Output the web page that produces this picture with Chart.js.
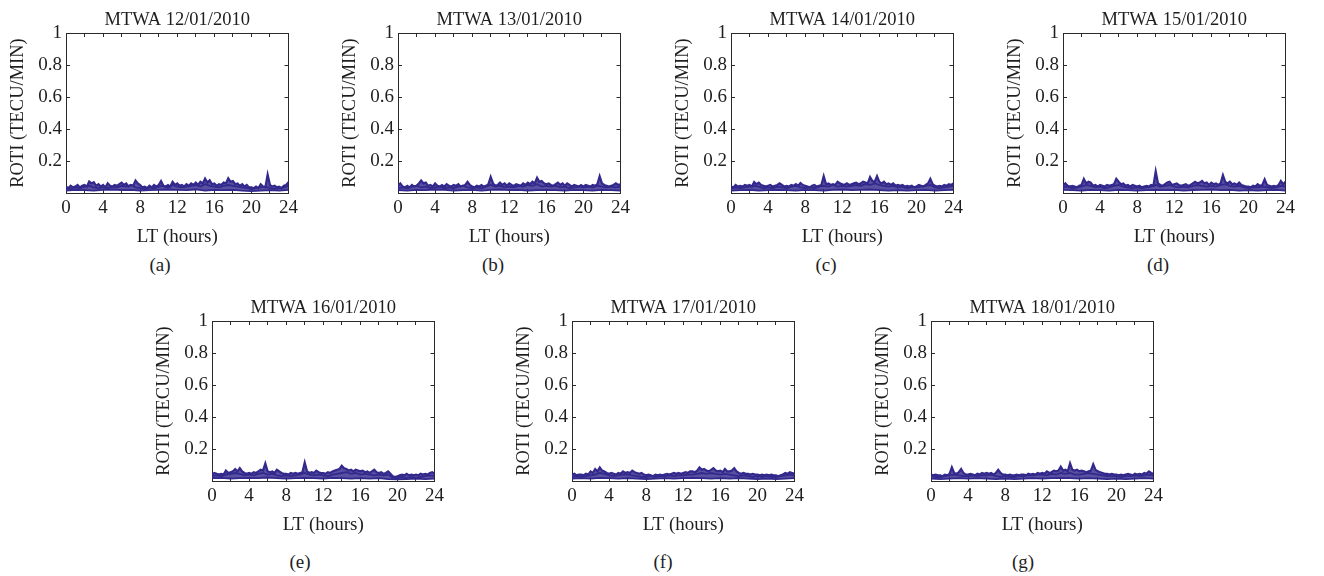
<!DOCTYPE html>
<html>
<head>
<meta charset="utf-8">
<title>ROTI MTWA 12-18/01/2010</title>
<script src="https://cdn.jsdelivr.net/npm/chart.js@4.4.1/dist/chart.umd.min.js"></script>
<style>
  html, body { margin: 0; padding: 0; background: #fff; }
  #fig { position: relative; width: 1324px; height: 576px; overflow: hidden; }
  #fig canvas { position: absolute; }
  .cap {
    position: absolute;
    font: 19px "Liberation Serif", "Times New Roman", serif;
    color: #1e1e1e;
    transform: translate(-50%, -50%);
    white-space: nowrap;
  }
</style>
</head>
<body>
<div id="fig"></div>
<script>
// panel titles and captions
var titles = ["MTWA 12/01/2010", "MTWA 13/01/2010", "MTWA 14/01/2010", "MTWA 15/01/2010",
              "MTWA 16/01/2010", "MTWA 17/01/2010", "MTWA 18/01/2010"];
var captions = ["(a)", "(b)", "(c)", "(d)", "(e)", "(f)", "(g)"];

var xTicks = [0, 4, 8, 12, 16, 20, 24];
var yTicks = [0.2, 0.4, 0.6, 0.8, 1];

// ROTI (TECU/min)
// upper trace: every 15 min, 0..24 h
var upper12 = [
  0.04, 0.03, 0.045, 0.035,  0.04, 0.05, 0.035, 0.045,  0.05, 0.04, 0.072, 0.06,
  0.068, 0.045, 0.055, 0.04,  0.05, 0.035, 0.06, 0.045,  0.04, 0.05, 0.045, 0.055,
  0.065, 0.05, 0.06, 0.04,  0.05, 0.045, 0.078, 0.06,  0.05, 0.035, 0.04, 0.03,
  0.045, 0.035, 0.05, 0.04,  0.05, 0.075, 0.045, 0.04,  0.05, 0.04, 0.07, 0.05,
  0.06, 0.045, 0.05, 0.04,  0.055, 0.045, 0.06, 0.05,  0.065, 0.05, 0.07, 0.06,
  0.09, 0.065, 0.08, 0.055,  0.06, 0.045, 0.055, 0.05,  0.065, 0.06, 0.092, 0.07,
  0.075, 0.055, 0.06, 0.045,  0.055, 0.04, 0.05, 0.035,  0.035, 0.03, 0.04, 0.03,
  0.055, 0.04, 0.035, 0.115,  0.05, 0.04, 0.045, 0.035,  0.04, 0.03, 0.045, 0.05,
  0.068
];
var upper13 = [
  0.045, 0.06, 0.04, 0.035,  0.045, 0.035, 0.05, 0.04,  0.045, 0.06, 0.078, 0.06,
  0.065, 0.045, 0.05, 0.04,  0.06, 0.045, 0.04, 0.05,  0.04, 0.055, 0.045, 0.04,
  0.05, 0.045, 0.055, 0.04,  0.045, 0.05, 0.07, 0.05,  0.04, 0.035, 0.045, 0.04,
  0.05, 0.04, 0.045, 0.055,  0.1, 0.06, 0.045, 0.05,  0.065, 0.05, 0.06, 0.045,
  0.06, 0.05, 0.045, 0.055,  0.05, 0.045, 0.06, 0.05,  0.065, 0.055, 0.07, 0.06,
  0.095, 0.07, 0.075, 0.06,  0.055, 0.06, 0.05, 0.045,  0.055, 0.065, 0.05, 0.06,
  0.045, 0.06, 0.05, 0.04,  0.05, 0.045, 0.04, 0.05,  0.04, 0.05, 0.045, 0.04,
  0.05, 0.045, 0.055, 0.105,  0.06, 0.05, 0.045, 0.04,  0.045, 0.05, 0.06, 0.05,
  0.055
];
var upper14 = [
  0.04, 0.035, 0.05, 0.04,  0.045, 0.04, 0.05, 0.045,  0.05, 0.04, 0.068, 0.055,
  0.065, 0.05, 0.045, 0.04,  0.045, 0.05, 0.04, 0.045,  0.05, 0.06, 0.05, 0.04,
  0.045, 0.04, 0.05, 0.045,  0.055, 0.045, 0.062, 0.05,  0.045, 0.04, 0.035, 0.045,
  0.05, 0.04, 0.045, 0.05,  0.105, 0.055, 0.06, 0.05,  0.055, 0.05, 0.07, 0.06,
  0.055, 0.05, 0.06, 0.05,  0.055, 0.06, 0.065, 0.055,  0.06, 0.07, 0.065, 0.06,
  0.1, 0.075, 0.07, 0.105,  0.07, 0.06, 0.07, 0.055,  0.06, 0.05, 0.06, 0.045,
  0.05, 0.045, 0.05, 0.04,  0.045, 0.04, 0.045, 0.035,  0.04, 0.05, 0.045, 0.04,
  0.05, 0.06, 0.088, 0.055,  0.045, 0.04, 0.045, 0.04,  0.05, 0.045, 0.055, 0.05,
  0.06
];
var upper15 = [
  0.045, 0.06, 0.045, 0.04,  0.045, 0.04, 0.035, 0.045,  0.05, 0.088, 0.06, 0.07,
  0.065, 0.045, 0.05, 0.04,  0.05, 0.045, 0.04, 0.05,  0.045, 0.05, 0.055, 0.088,
  0.07, 0.055, 0.06, 0.045,  0.05, 0.04, 0.05, 0.045,  0.04, 0.045, 0.035, 0.04,
  0.045, 0.04, 0.05, 0.045,  0.135, 0.06, 0.05, 0.045,  0.055, 0.065, 0.07, 0.05,
  0.055, 0.06, 0.05, 0.045,  0.05, 0.055, 0.045, 0.05,  0.06, 0.07, 0.06, 0.065,
  0.075, 0.06, 0.065, 0.05,  0.065, 0.055, 0.06, 0.05,  0.06, 0.112, 0.07, 0.06,
  0.07, 0.055, 0.06, 0.05,  0.065, 0.05, 0.045, 0.04,  0.04, 0.035, 0.045, 0.04,
  0.055, 0.045, 0.05, 0.085,  0.05, 0.045, 0.04, 0.045,  0.04, 0.05, 0.075, 0.055,
  0.07
];
var upper16 = [
  0.04, 0.05, 0.045, 0.04,  0.045, 0.04, 0.065, 0.05,  0.055, 0.06, 0.075, 0.06,
  0.08, 0.06, 0.05, 0.045,  0.05, 0.045, 0.055, 0.05,  0.06, 0.07, 0.065, 0.11,
  0.06, 0.055, 0.06, 0.05,  0.07, 0.06, 0.05, 0.045,  0.045, 0.04, 0.05, 0.045,
  0.05, 0.045, 0.05, 0.055,  0.115, 0.06, 0.05, 0.055,  0.05, 0.065, 0.055, 0.05,
  0.05, 0.045, 0.055, 0.05,  0.06, 0.065, 0.07, 0.075,  0.095, 0.08, 0.075, 0.065,
  0.07, 0.06, 0.07, 0.065,  0.06, 0.065, 0.055, 0.06,  0.05, 0.06, 0.07, 0.055,
  0.05, 0.055, 0.045, 0.05,  0.06, 0.045, 0.03, 0.025,  0.03, 0.035, 0.04, 0.035,
  0.045, 0.035, 0.04, 0.035,  0.04, 0.035, 0.045, 0.04,  0.045, 0.04, 0.05, 0.055,
  0.045
];
var upper17 = [
  0.04, 0.045, 0.035, 0.04,  0.04, 0.035, 0.045, 0.04,  0.06, 0.05, 0.075, 0.06,
  0.085, 0.065, 0.06, 0.05,  0.045, 0.05, 0.045, 0.04,  0.05, 0.045, 0.06, 0.05,
  0.055, 0.05, 0.065, 0.055,  0.05, 0.045, 0.05, 0.04,  0.035, 0.04, 0.035, 0.03,
  0.04, 0.035, 0.04, 0.035,  0.04, 0.045, 0.04, 0.045,  0.05, 0.045, 0.05, 0.045,
  0.05, 0.055, 0.05, 0.06,  0.06, 0.055, 0.065, 0.085,  0.07, 0.075, 0.065, 0.06,
  0.07, 0.08, 0.065, 0.06,  0.065, 0.055, 0.075, 0.06,  0.06, 0.065, 0.08, 0.06,
  0.05, 0.045, 0.05, 0.045,  0.045, 0.04, 0.045, 0.04,  0.04, 0.035, 0.04, 0.035,
  0.04, 0.035, 0.04, 0.035,  0.035, 0.03, 0.035, 0.04,  0.05, 0.045, 0.055, 0.05,
  0.045
];
var upper18 = [
  0.04, 0.035, 0.04, 0.035,  0.035, 0.03, 0.04, 0.035,  0.045, 0.085, 0.05, 0.045,
  0.055, 0.075, 0.05, 0.04,  0.04, 0.045, 0.04, 0.035,  0.045, 0.04, 0.05, 0.045,
  0.05, 0.045, 0.05, 0.04,  0.05, 0.07, 0.05, 0.04,  0.04, 0.035, 0.04, 0.035,
  0.035, 0.04, 0.035, 0.04,  0.04, 0.035, 0.045, 0.04,  0.045, 0.04, 0.05, 0.045,
  0.05, 0.045, 0.06, 0.05,  0.055, 0.065, 0.06, 0.065,  0.09, 0.065, 0.07, 0.06,
  0.11, 0.07, 0.065, 0.07,  0.06, 0.065, 0.06, 0.055,  0.06, 0.065, 0.105, 0.07,
  0.06, 0.055, 0.05, 0.045,  0.045, 0.04, 0.045, 0.04,  0.04, 0.035, 0.04, 0.035,
  0.04, 0.045, 0.04, 0.035,  0.045, 0.04, 0.045, 0.04,  0.05, 0.045, 0.06, 0.05,
  0.045
];

// middle trace: every 30 min
var mid12 = [0.03, 0.025, 0.035, 0.03, 0.04, 0.045, 0.035, 0.03, 0.035, 0.03, 0.04, 0.035,
  0.045, 0.04, 0.05, 0.035, 0.03, 0.025, 0.035, 0.03, 0.04, 0.045, 0.035, 0.05, 0.04,
  0.035, 0.04, 0.045, 0.05, 0.04, 0.055, 0.045, 0.04, 0.035, 0.045, 0.05, 0.045, 0.04,
  0.035, 0.03, 0.025, 0.03, 0.035, 0.04, 0.03, 0.025, 0.03, 0.035, 0.045];
var mid13 = [0.03, 0.035, 0.03, 0.04, 0.045, 0.035, 0.04, 0.03, 0.035, 0.04, 0.03, 0.035,
  0.03, 0.04, 0.045, 0.035, 0.03, 0.035, 0.03, 0.04, 0.05, 0.04, 0.045, 0.035, 0.04,
  0.035, 0.045, 0.04, 0.05, 0.045, 0.055, 0.04, 0.045, 0.04, 0.045, 0.035, 0.04, 0.03,
  0.035, 0.04, 0.035, 0.04, 0.035, 0.045, 0.04, 0.035, 0.04, 0.035, 0.04];
var mid14 = [0.03, 0.035, 0.03, 0.035, 0.04, 0.045, 0.04, 0.03, 0.035, 0.03, 0.04, 0.035,
  0.03, 0.04, 0.045, 0.035, 0.03, 0.035, 0.03, 0.04, 0.045, 0.04, 0.05, 0.04, 0.045,
  0.04, 0.045, 0.05, 0.045, 0.055, 0.05, 0.06, 0.05, 0.045, 0.04, 0.045, 0.035, 0.04,
  0.03, 0.035, 0.035, 0.04, 0.045, 0.05, 0.035, 0.03, 0.035, 0.04, 0.045];
var mid15 = [0.035, 0.04, 0.03, 0.035, 0.04, 0.05, 0.045, 0.035, 0.04, 0.03, 0.035, 0.045,
  0.05, 0.04, 0.035, 0.03, 0.035, 0.03, 0.035, 0.04, 0.05, 0.04, 0.045, 0.05, 0.04,
  0.035, 0.04, 0.035, 0.045, 0.05, 0.045, 0.04, 0.045, 0.04, 0.05, 0.055, 0.045, 0.04,
  0.045, 0.035, 0.03, 0.035, 0.035, 0.04, 0.035, 0.03, 0.035, 0.045, 0.04];
var mid16 = [0.03, 0.035, 0.03, 0.04, 0.045, 0.05, 0.045, 0.035, 0.04, 0.035, 0.045, 0.05,
  0.04, 0.045, 0.035, 0.03, 0.035, 0.03, 0.035, 0.04, 0.05, 0.04, 0.035, 0.04, 0.035,
  0.03, 0.04, 0.045, 0.05, 0.055, 0.045, 0.05, 0.04, 0.045, 0.04, 0.035, 0.04, 0.035,
  0.04, 0.02, 0.02, 0.025, 0.02, 0.025, 0.02, 0.025, 0.03, 0.035, 0.03];
var mid17 = [0.025, 0.03, 0.025, 0.03, 0.035, 0.04, 0.05, 0.045, 0.035, 0.03, 0.035, 0.04,
  0.04, 0.035, 0.03, 0.025, 0.025, 0.03, 0.025, 0.03, 0.03, 0.035, 0.03, 0.035, 0.035,
  0.04, 0.04, 0.045, 0.05, 0.045, 0.05, 0.045, 0.04, 0.045, 0.04, 0.035, 0.03, 0.035,
  0.03, 0.025, 0.03, 0.025, 0.03, 0.025, 0.025, 0.03, 0.035, 0.04, 0.035];
var mid18 = [0.03, 0.025, 0.025, 0.03, 0.035, 0.04, 0.035, 0.03, 0.03, 0.035, 0.03, 0.035,
  0.035, 0.04, 0.03, 0.025, 0.03, 0.025, 0.025, 0.03, 0.03, 0.035, 0.035, 0.04, 0.04,
  0.035, 0.045, 0.04, 0.05, 0.045, 0.05, 0.04, 0.04, 0.045, 0.05, 0.045, 0.04, 0.035,
  0.03, 0.03, 0.03, 0.025, 0.03, 0.03, 0.035, 0.03, 0.035, 0.04, 0.035];

// lower trace: hourly
var low12 = [0.015, 0.02, 0.018, 0.015, 0.02, 0.022, 0.018, 0.02, 0.015, 0.018, 0.02, 0.022,
  0.02, 0.018, 0.022, 0.015, 0.02, 0.018, 0.02, 0.015, 0.012, 0.015, 0.018, 0.015, 0.02];
var low13 = [0.018, 0.015, 0.02, 0.018, 0.022, 0.02, 0.015, 0.018, 0.02, 0.015, 0.02, 0.022,
  0.018, 0.02, 0.015, 0.018, 0.02, 0.018, 0.015, 0.02, 0.018, 0.015, 0.02, 0.018, 0.015];
var low14 = [0.015, 0.018, 0.02, 0.015, 0.018, 0.02, 0.018, 0.015, 0.02, 0.018, 0.015, 0.02,
  0.022, 0.018, 0.02, 0.022, 0.018, 0.015, 0.018, 0.015, 0.018, 0.02, 0.015, 0.018, 0.02];
var low15 = [0.02, 0.018, 0.015, 0.02, 0.018, 0.015, 0.02, 0.018, 0.015, 0.018, 0.02, 0.018,
  0.02, 0.015, 0.018, 0.02, 0.022, 0.018, 0.02, 0.015, 0.018, 0.015, 0.018, 0.02, 0.015];
var low16 = [0.018, 0.02, 0.015, 0.018, 0.02, 0.018, 0.022, 0.018, 0.015, 0.018, 0.02, 0.018,
  0.015, 0.02, 0.018, 0.015, 0.018, 0.015, 0.018, 0.012, 0.01, 0.012, 0.015, 0.012, 0.015];
var low17 = [0.015, 0.018, 0.015, 0.02, 0.018, 0.015, 0.018, 0.015, 0.012, 0.015, 0.018, 0.015,
  0.018, 0.02, 0.018, 0.015, 0.018, 0.015, 0.018, 0.015, 0.012, 0.015, 0.012, 0.015, 0.018];
var low18 = [0.015, 0.012, 0.015, 0.018, 0.015, 0.018, 0.015, 0.012, 0.015, 0.012, 0.015, 0.018,
  0.015, 0.018, 0.02, 0.018, 0.015, 0.018, 0.015, 0.012, 0.015, 0.012, 0.015, 0.018, 0.015];

var uppers = [upper12, upper13, upper14, upper15, upper16, upper17, upper18];
var mids = [mid12, mid13, mid14, mid15, mid16, mid17, mid18];
var lows = [low12, low13, low14, low15, low16, low17, low18];

// where each plot area sits on the page (left, top) and caption spot
var plotLeft = [66, 398, 731, 1063, 212, 572, 931];
var plotTop = [33, 33, 33, 33, 321, 321, 321];
var capPos = [[160, 265], [493, 265], [826, 265], [1158, 265], [300, 562], [663, 562], [1023, 562]];

var SERIF = '"Liberation Serif", "Times New Roman", serif';
var INK = '#1e1e1e';
var LINE = '#33298c';
var BAND = 'rgba(51, 41, 140, 0.82)';
Chart.defaults.font.family = SERIF;
Chart.defaults.color = INK;

function toPoints(arr) {
    // samples are evenly spaced over the 24 h day
    var step = 24 / (arr.length - 1);
    return arr.map(function(v, i){ return {x: i * step, y: v}; });
}

function drawPanel(k){
    var fig = document.getElementById('fig');
    var cv = document.createElement('canvas');
    cv.width = 306;
    cv.height = 253;
    cv.style.left = (plotLeft[k] - 66) + 'px';
    cv.style.top = (plotTop[k] - 33) + 'px';
    fig.appendChild(cv);

    var cap = document.createElement('div');
    cap.className = 'cap';
    cap.textContent = captions[k];
    cap.style.left = capPos[k][0] + 'px';
    cap.style.top = capPos[k][1] + 'px';
    fig.appendChild(cap);

    var series = [uppers[k], mids[k], lows[k]].map(function(arr, j){
        return {
            data: toPoints(arr),
            xAxisID: 'x',
            yAxisID: 'y',
            borderColor: LINE,
            backgroundColor: BAND,
            borderWidth: j === 0 ? 2.2 : 1.8,
            pointRadius: 0,
            tension: 0,
            // the dense band between the top and bottom traces
            fill: j === 0 ? '+2' : false
        };
    });

    var tickGrid = { drawOnChartArea: false, drawTicks: true, tickLength: -4, color: '#2a2a2a', lineWidth: 1 };
    var edge = { display: true, color: '#2a2a2a', width: 1 };

    new Chart(cv.getContext('2d'), {
        type: 'line',
        data: { datasets: series },
        options: {
            responsive: false,
            animation: false,
            events: [],
            layout: { padding: { left: 0, right: 2, top: 0, bottom: 0 } },
            plugins: {
                legend: { display: false },
                tooltip: { enabled: false },
                filler: { propagate: false },
                title: {
                    display: true,
                    text: titles[k],
                    fullSize: false,
                    color: INK,
                    font: { family: SERIF, size: 18.5, weight: 'normal' },
                    padding: { top: 8.9, bottom: 1.9 }
                }
            },
            scales: {
                x: {
                    type: 'linear', position: 'bottom', min: 0, max: 24,
                    ticks: {
                        stepSize: 2, autoSkip: false, maxRotation: 0, padding: 8,
                        color: INK, font: { size: 19 },
                        callback: function(v){ return xTicks.indexOf(v) >= 0 ? String(v) : ''; }
                    },
                    grid: tickGrid, border: edge,
                    title: { display: true, text: 'LT (hours)', color: INK,
                             font: { size: 19 }, padding: { top: 0, bottom: 5 } },
                    afterFit: function(s){ s.height = 60; }
                },
                xTop: {
                    type: 'linear', position: 'top', min: 0, max: 24,
                    ticks: { stepSize: 2, display: false },
                    grid: tickGrid, border: edge,
                    afterFit: function(s){ s.height = 0; }
                },
                y: {
                    type: 'linear', position: 'left', min: 0, max: 1,
                    ticks: {
                        stepSize: 0.2, padding: 8, color: INK, font: { size: 19 },
                        callback: function(v){
                            var r = +v.toFixed(1);
                            return yTicks.indexOf(r) >= 0 ? String(r) : '';
                        }
                    },
                    grid: tickGrid, border: edge,
                    title: { display: true, text: 'ROTI (TECU/MIN)', color: INK,
                             font: { size: 18.5 }, padding: { top: 7, bottom: 0 } },
                    afterFit: function(s){ s.width = 66; }
                },
                yRight: {
                    type: 'linear', position: 'right', min: 0, max: 1,
                    ticks: { stepSize: 0.2, display: false },
                    grid: tickGrid, border: edge,
                    afterFit: function(s){ s.width = 0; }
                }
            }
        }
    });
}

for (var k = 0; k < titles.length; k++) {
    drawPanel(k);
}
</script>
</body>
</html>
